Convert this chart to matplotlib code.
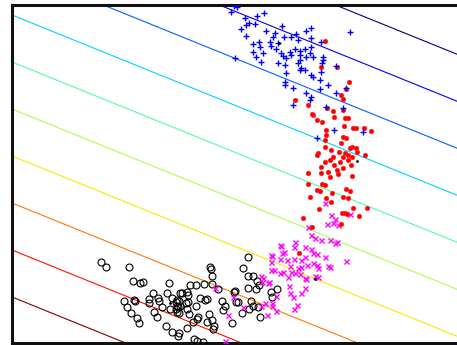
import numpy as np
import matplotlib
matplotlib.use("Agg")
import matplotlib.pyplot as plt

# Class 1: open circles
c1_x = [8.9, 9.4, 11.7, 12.1, 12.8, 13.1, 15.7, 19.8, 19.9, 20.0, 17.8, 18.4, 19.2, 20.0,
        20.6, 22.3, 23.1, 23.6, 23.6, 24.1, 24.5, 24.4, 23.6, 11.2, 12.2, 12.3, 13.7, 13.7,
        14.1, 14.6, 14.7, 15.5, 16.0, 16.8, 17.5, 16.7, 17.4, 17.6, 18.8, 19.3, 19.5, 21.0,
        21.3, 22.2, 22.4, 22.6, 23.9, 11.5, 11.9, 12.5, 12.7, 14.2, 14.5, 15.0, 15.8, 16.4,
        16.5, 16.7, 16.8, 17.5, 17.7, 18.4, 18.1, 18.5, 18.6, 19.5, 19.7, 20.0, 20.2, 20.1,
        21.1, 22.0, 23.0, 15.4, 16.0, 16.7, 16.6, 17.5, 18.2, 18.5, 19.1, 24.8, 23.7, 24.1,
        24.6, 24.7, 26.5, 25.9, 26.0, 16.5, 17.6, 16.5, 16.6, 16.4, 17.0]
c1_y = [8.1, 7.6, 7.6, 6.2, 6.0, 6.1, 6.0, 7.6, 7.4, 6.7, 5.8, 5.8, 5.9, 5.9,
        5.4, 5.2, 7.5, 8.6, 6.7, 6.7, 6.2, 5.4, 5.5, 4.2, 4.3, 4.2, 4.4, 4.0,
        5.0, 4.5, 4.2, 5.0, 4.5, 5.0, 5.1, 4.2, 4.0, 4.1, 4.5, 4.3, 4.4, 4.2,
        3.7, 5.1, 4.1, 4.1, 4.2, 3.6, 3.0, 2.5, 2.0, 3.1, 2.6, 3.6, 3.4, 3.4,
        3.1, 3.0, 3.7, 3.4, 2.9, 3.7, 2.1, 2.4, 2.6, 2.1, 2.9, 2.3, 1.7, 1.4,
        3.3, 2.0, 3.0, 1.7, 1.1, 1.0, 0.7, 1.5, 0.4, 0.2, 0.1, 2.6, 3.4, 3.7,
        3.6, 5.8, 5.4, 5.1, 4.6, 3.7, 4.8, 4.3, 3.6, 4.1, 5.0]

# Class 2: crosses
c2_x = [31.3, 31.9, 32.3, 31.5, 32.6, 33.8, 29.6, 29.9, 30.3, 30.9, 31.8, 32.3, 32.5, 28.3,
        26.9, 28.2, 29.3, 29.9, 30.1, 27.2, 27.0, 26.0, 30.5, 31.3, 26.8, 27.5, 28.2, 28.9,
        29.3, 30.1, 30.5, 33.4, 25.9, 27.8, 28.6, 28.9, 29.5, 31.6, 31.8, 30.6, 25.9, 26.2,
        26.8, 27.1, 27.9, 28.3, 28.8, 29.3, 29.4, 30.3, 30.6, 24.9, 25.1, 25.7, 27.6, 27.7,
        29.3, 28.9, 27.8, 28.1, 28.5, 28.2, 26.4, 26.0, 26.0, 24.9, 26.4, 25.5, 23.1, 22.1,
        21.6, 25.0, 25.6, 25.3, 20.3, 21.3, 32.1, 25.9, 26.8]
c2_y = [14.0, 12.8, 12.4, 11.9, 11.8, 12.9, 11.6, 10.8, 10.5, 10.3, 10.3, 10.0, 10.1, 10.1,
        9.7, 9.6, 9.6, 9.4, 9.0, 9.1, 9.0, 8.7, 8.9, 8.6, 8.4, 8.3, 8.4, 8.3,
        8.6, 8.0, 7.8, 8.2, 8.1, 7.7, 7.5, 7.6, 7.8, 7.7, 7.6, 7.5, 7.3, 7.3,
        7.0, 7.1, 7.1, 7.0, 6.9, 6.5, 6.4, 6.7, 6.6, 6.7, 6.5, 6.1, 6.6, 5.7,
        5.5, 5.0, 5.0, 4.6, 3.8, 3.4, 4.7, 4.0, 3.7, 3.7, 3.2, 2.8, 3.6, 4.6,
        2.8, 6.1, 6.0, 4.0, 5.5, 0.2, 12.0, 8.8, 9.8]

# Class 3: filled dots
c3_x = [31.3, 32.5, 30.9, 33.7, 33.4, 32.9, 33.1, 28.3, 29.6, 31.5, 32.1, 33.1, 30.1, 30.5,
        31.0, 32.2, 33.3, 33.6, 33.2, 34.4, 35.2, 35.9, 31.4, 31.4, 33.1, 33.4, 31.3, 31.3,
        30.6, 32.9, 34.0, 34.4, 31.9, 32.7, 33.3, 33.6, 34.5, 35.3, 32.1, 32.8, 33.6, 33.1,
        34.0, 31.8, 31.3, 32.2, 30.9, 31.6, 32.5, 33.1, 33.9, 29.6, 30.9, 32.6, 34.0, 31.8,
        29.6, 31.0, 31.3, 30.5, 30.8, 32.0, 33.4, 33.8, 29.8, 31.4, 31.9, 33.1, 33.6, 30.7,
        34.1, 33.0, 33.3, 33.5, 34.7, 35.5, 29.1, 32.9, 30.0, 28.7, 30.0, 34.1, 30.5, 33.8]
c3_y = [30.2, 27.6, 27.6, 26.1, 25.4, 24.8, 24.4, 24.3, 23.8, 23.5, 23.2, 23.3, 22.8, 22.3,
        22.1, 22.6, 22.5, 22.5, 21.7, 21.5, 21.5, 21.2, 21.3, 20.8, 20.6, 20.5, 20.3, 19.6,
        19.0, 20.0, 19.6, 19.5, 19.3, 19.1, 19.0, 18.8, 19.1, 18.8, 18.6, 18.1, 18.3, 18.6,
        18.6, 18.3, 18.1, 17.8, 17.6, 17.1, 17.3, 17.5, 17.8, 17.0, 17.0, 16.9, 16.7, 16.6,
        15.9, 15.9, 15.8, 15.3, 15.2, 15.0, 15.4, 15.2, 14.6, 14.5, 14.1, 14.6, 14.5, 13.4,
        13.5, 13.0, 13.0, 12.9, 12.7, 13.5, 12.5, 11.9, 11.6, 9.0, 22.9, 21.5, 18.8, 19.5]

# Class 4: plus signs
c4_x = [21.9, 22.5, 23.3, 23.4, 23.7, 24.5, 25.2, 24.3, 22.9, 23.4, 25.4, 26.3, 27.0, 26.1,
        27.2, 27.9, 28.4, 29.4, 29.9, 29.9, 30.9, 28.6, 25.8, 24.7, 24.8, 26.6, 25.9, 26.4,
        26.9, 27.8, 28.3, 28.8, 29.3, 29.9, 29.8, 30.1, 29.4, 28.8, 27.9, 27.4, 27.1, 25.1,
        24.4, 24.9, 24.1, 22.3, 26.6, 27.3, 28.8, 28.6, 29.3, 29.9, 31.1, 31.0, 31.1, 30.9,
        30.1, 30.8, 31.6, 28.8, 28.9, 27.4, 27.3, 27.3, 28.1, 29.4, 29.9, 29.8, 28.1, 30.8,
        32.4, 32.4, 33.4, 33.8, 31.4, 33.1, 32.2, 30.5, 35.1, 22.2, 24.1]
c4_y = [33.1, 33.6, 32.5, 31.8, 32.0, 32.7, 33.0, 31.9, 31.4, 30.7, 31.2, 31.0, 31.7, 30.6,
        30.6, 30.6, 30.9, 31.2, 31.5, 30.5, 30.1, 30.3, 30.1, 30.1, 29.6, 30.0, 29.7, 29.4,
        29.0, 29.1, 29.4, 29.2, 29.4, 29.6, 29.0, 28.6, 28.6, 28.8, 28.8, 28.5, 28.7, 29.0,
        28.6, 28.1, 29.1, 28.5, 28.0, 27.8, 28.3, 28.0, 27.3, 26.8, 28.3, 28.0, 28.6, 27.1,
        26.6, 26.3, 25.8, 27.3, 27.5, 27.0, 25.8, 26.1, 25.5, 25.0, 24.6, 24.3, 23.8, 25.4,
        25.0, 27.7, 25.5, 31.1, 23.6, 23.5, 21.3, 20.5, 21.1, 33.7, 29.9]

# Class means
mean_x = [15.8, 30.3, 34.5, 26.7]
mean_y = [4.0, 6.4, 18.2, 30.0]

# Parallel decision lines: f(x, y) = slope * x + y
slope = 0.405
levels = [4.6, 9.3, 14.0, 18.7, 23.4, 28.1, 32.8, 37.5, 42.2, 46.9]

fig = plt.figure(figsize=(4.57, 3.45), dpi=100)
ax = fig.add_axes([12 / 457, 2 / 345, 450 / 457, 338 / 345])

gx, gy = np.meshgrid(np.linspace(0, 45, 200), np.linspace(0, 33.8, 200))
gz = slope * gx + gy
ax.contour(gx, gy, gz, levels=levels, cmap="jet_r", linewidths=0.8, zorder=1)

ax.plot(c1_x, c1_y, "o", ms=5, mfc="none", mec="black", mew=0.8, zorder=3)
ax.plot(c2_x, c2_y, "x", ms=3.6, color="magenta", mew=1.0, zorder=3)
ax.plot(c3_x, c3_y, "o", ms=3.4, color="red", mec="#ff2a2a", mew=0.3, zorder=3)
ax.plot(c4_x, c4_y, "+", ms=5, color="blue", mew=1.0, zorder=3)
ax.plot(mean_x, mean_y, ".", ms=2, color="black", zorder=4)

ax.set_xlim(0, 45)
ax.set_ylim(0, 33.8)
ax.set_xticks([])
ax.set_yticks([])
for s in ax.spines.values():
    s.set_linewidth(2.2)
    s.set_color("#111111")

fig.savefig("out.png", dpi=100)
